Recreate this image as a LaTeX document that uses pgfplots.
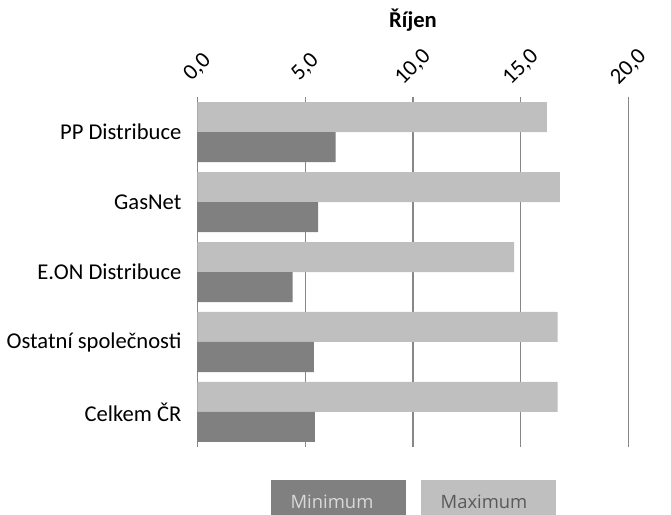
\documentclass[border=0pt]{standalone}
\usepackage{pgfplots}
\pgfplotsset{compat=1.18}
\usepackage{fontspec}
\setmainfont{Carlito}
\newfontfamily\legfont{Open Sans}
\definecolor{cmin}{HTML}{808080}
\definecolor{cmax}{HTML}{BFBFBF}
\definecolor{gridc}{HTML}{878787}
\begin{document}
\begin{tikzpicture}
\useasboundingbox (0,0) rectangle (335.5pt,257.5pt);
\begin{axis}[
  at={(98.75pt,34pt)}, anchor=south west,
  scale only axis, width=215.6pt, height=175pt,
  xmin=0, xmax=20, ymin=-0.5, ymax=4.5,
  xtick={0,5,10,15,20},
  xticklabels={{0,0},{5,0},{10,0},{15,0},{20,0}},
  xticklabel pos=upper,
  axis x line*=top,
  x axis line style={draw=none},
  axis y line*=left,
  y axis line style={draw=gridc, line width=0.6pt},
  major tick length=0pt,
  xmajorgrids,
  major grid style={draw=gridc, line width=0.6pt},
  ytick={0,1,2,3,4},
  yticklabels={Celkem ČR, Ostatní společnosti, E.ON Distribuce, GasNet, PP Distribuce},
  yticklabel style={anchor=east, xshift=-4.5pt, font=\fontsize{11.3}{13}\selectfont},
  xticklabel style={yshift=15pt, rotate=45, anchor=center, font=\fontsize{11.3}{13}\selectfont},
  xbar, bar width=0.4286,
  axis on top=false,
]
\addplot[fill=cmax, draw=none, bar shift=0.2143] coordinates {(16.70,0) (16.70,1) (14.69,2) (16.81,3) (16.20,4)};
\addplot[fill=cmin, draw=none, bar shift=-0.2143] coordinates {(5.45,0) (5.40,1) (4.41,2) (5.60,3) (6.41,4)};
\end{axis}
\node[font=\fontsize{11.3}{13}\selectfont\bfseries] at (206.5pt,247.5pt) {Říjen};
\fill[cmin] (135.5pt,0pt) rectangle (203pt,17.5pt);
\fill[cmax] (210.5pt,0pt) rectangle (278pt,17.5pt);
\node[font=\legfont\fontsize{9.2}{11}\selectfont, text=black!15] at (166pt,6.5pt) {Minimum};
\node[font=\legfont\fontsize{9.2}{11}\selectfont, text=black!65] at (242pt,6.5pt) {Maximum};
\end{tikzpicture}
\end{document}
